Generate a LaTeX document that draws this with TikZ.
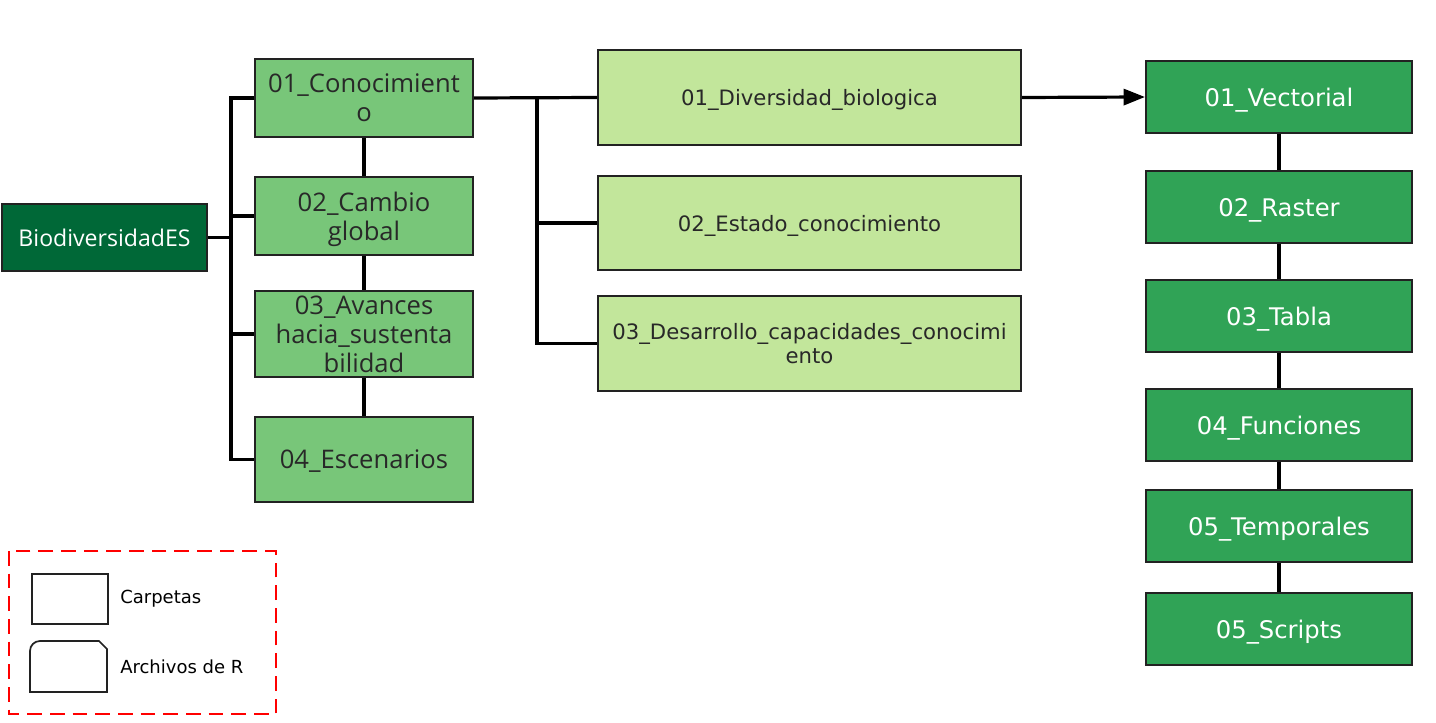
\documentclass[tikz,border=0pt]{standalone}
\usepackage{fontspec}
\setmainfont{DejaVu Sans}
\newfontfamily\segoe{Open Sans}
\usetikzlibrary{arrows.meta,positioning}
\definecolor{rootgreen}{RGB}{0,104,55}
\definecolor{midgreen}{RGB}{120,198,121}
\definecolor{lightgreen}{RGB}{194,230,155}
\definecolor{rightgreen}{RGB}{48,163,86}
\definecolor{bordergray}{RGB}{34,34,34}
\definecolor{textgray}{RGB}{40,40,40}
\tikzset{
  rootbox/.style={draw=bordergray, line width=1.5pt, fill=rootgreen, text=white,
    minimum width=153.75pt, minimum height=50.25pt, inner sep=0pt,
    font=\segoe\fontsize{17.3}{20}\selectfont},
  lonebox/.style={draw=bordergray, line width=1.5pt, fill=midgreen, text=textgray,
    minimum width=163.5pt, inner sep=0pt, align=center, text depth=0pt,
    font=\segoe\fontsize{19.2}{21.75}\selectfont},
  ltwobox/.style={draw=bordergray, line width=1.5pt, fill=lightgreen, text=textgray,
    minimum width=317.25pt, inner sep=0pt, align=center, text depth=0pt,
    font=\fontsize{15.9}{18}\selectfont},
  rbox/.style={draw=bordergray, line width=1.5pt, fill=rightgreen, text=white,
    minimum width=199.5pt, minimum height=54pt, inner sep=0pt, text depth=0pt,
    font=\fontsize{18.2}{21}\selectfont},
  conn/.style={draw=black, line width=2.4pt, line join=miter},
  legendframe/.style={draw=red, line width=1.9pt, dash pattern=on 11pt off 6pt},
  legendshape/.style={draw=bordergray, line width=1.3pt, fill=white},
  legendtext/.style={anchor=west, inner sep=0pt, font=\fontsize{13.5}{16}\selectfont}
}
\begin{document}
\begin{tikzpicture}[x=0.75pt, y=-0.75pt]
\useasboundingbox (0,0) rectangle (1436,723);

% root
\node[rootbox] (root) at (104.5,237.5) {BiodiversidadES};

% level 1
\node[lonebox, minimum height=58.5pt] (n1) at (364,98) {01\_Conocimient\\o};
\node[lonebox, minimum height=58.5pt] (n2) at (364,216) {02\_Cambio\\global};
\node[lonebox, minimum height=64.5pt] (n3) at (364,334) {03\_Avances\\hacia\_sustenta\\bilidad};
\node[lonebox, minimum height=63.75pt] (n4) at (364,459.5) {04\_Escenarios};

% level 2
\node[ltwobox, minimum height=71.25pt] (m1) at (809.5,97.5) {01\_Diversidad\_biologica};
\node[ltwobox, minimum height=70.5pt] (m2) at (809.5,223) {02\_Estado\_conocimiento};
\node[ltwobox, minimum height=71.25pt] (m3) at (809.5,343.5) {03\_Desarrollo\_capacidades\_conocimi\\ento};

% right column
\node[rbox] (r1) at (1279,97) {01\_Vectorial};
\node[rbox] (r2) at (1279,207) {02\_Raster};
\node[rbox] (r3) at (1279,316) {03\_Tabla};
\node[rbox] (r4) at (1279,425) {04\_Funciones};
\node[rbox] (r5) at (1279,526.5) {05\_Temporales};
\node[rbox] (r6) at (1279,629) {05\_Scripts};

% bus coordinates
\coordinate (busa) at (231,0);
\coordinate (busb) at (537,0);

% connectors root -> level 1
\draw[conn] (n1.west) -- (busa |- n1.west) -- (busa |- n4.west) -- (n4.west);
\draw[conn] (root.east) -- (root.east -| busa);
\draw[conn] (busa |- n2.west) -- (n2.west);
\draw[conn] (busa |- n3.west) -- (n3.west);
\draw[conn] (n1.south) -- (n2.north);
\draw[conn] (n2.south) -- (n3.north);
\draw[conn] (n3.south) -- (n4.north);

% connectors level 1 -> level 2
\draw[conn] (n1.east) -- (m1.west);
\draw[conn] (busb |- m1.west) -- (busb |- m3.west) -- (m3.west);
\draw[conn] (busb |- m2.west) -- (m2.west);

% arrow to right column
\draw[conn, -{Triangle[length=16pt, width=12pt]}] (m1.east) -- (r1.west);

% right column connectors
\draw[conn] (r1.south) -- (r2.north);
\draw[conn] (r2.south) -- (r3.north);
\draw[conn] (r3.south) -- (r4.north);
\draw[conn] (r4.south) -- (r5.north);
\draw[conn] (r5.south) -- (r6.north);

% legend
\draw[legendframe] (9,551) rectangle (276,714);
\node[legendshape, minimum width=57pt, minimum height=37.5pt, inner sep=0pt] (lfolder) at (70,599) {};
\draw[legendshape] (30,692) -- (30,651) arc[start angle=180, end angle=270, radius=10] -- (99,641) -- (107,649) -- (107,692) -- cycle;
\node[legendtext] (tfolder) at (120,599) {Carpetas};
\node[legendtext] (tfile) at (120,667) {Archivos de R};
\end{tikzpicture}
\end{document}
